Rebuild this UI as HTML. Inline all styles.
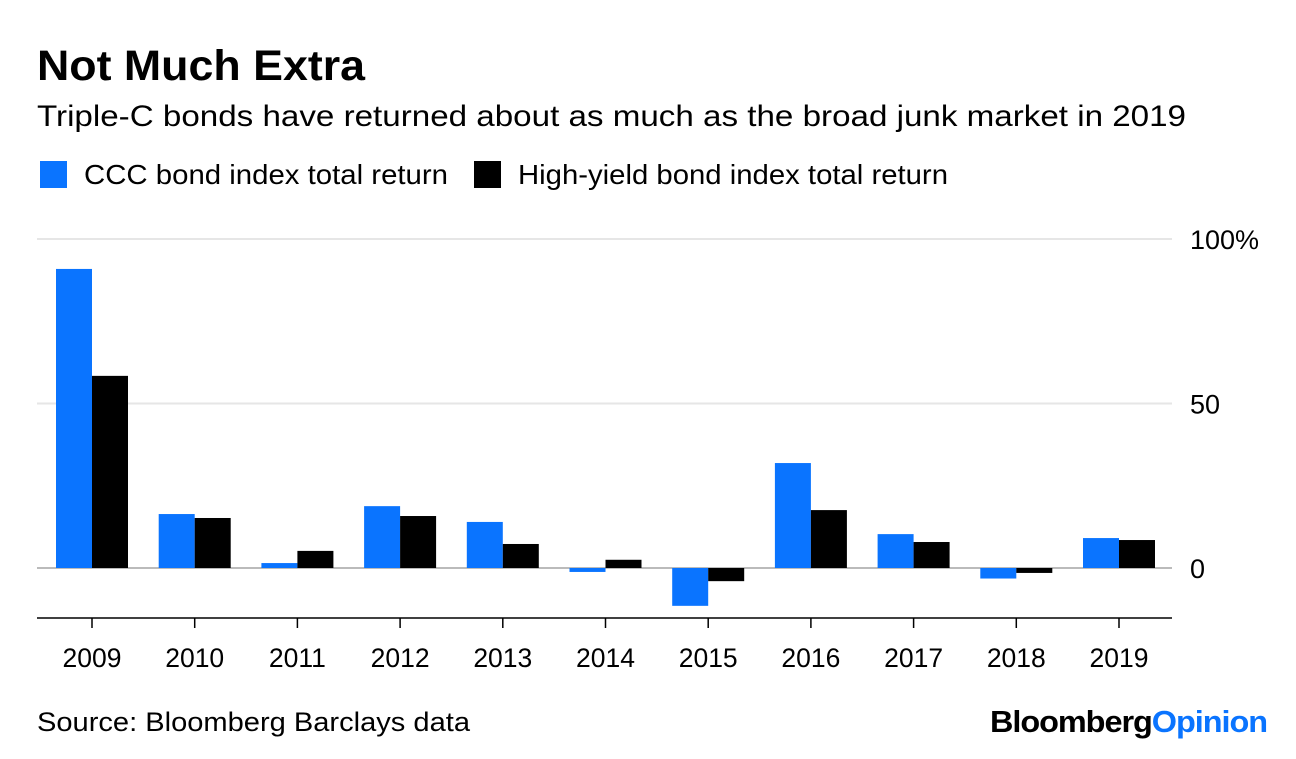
<!DOCTYPE html>
<html><head><meta charset="utf-8"><style>
body{margin:0;width:1296px;height:754px;background:#fff;font-family:"Liberation Sans",sans-serif;overflow:hidden}
</style></head><body>
<svg width="1296" height="754">
<text x="37" y="80" font-size="43" font-weight="bold" fill="#000" textLength="328" lengthAdjust="spacingAndGlyphs">Not Much Extra</text>
<text x="37" y="126" font-size="30" fill="#000" textLength="1149" lengthAdjust="spacingAndGlyphs">Triple-C bonds have returned about as much as the broad junk market in 2019</text>
<g>
<rect x="40" y="161" width="27" height="27" fill="#0a74ff"/>
<text x="84" y="184" font-size="28" textLength="364" lengthAdjust="spacingAndGlyphs">CCC bond index total return</text>
<rect x="474" y="161" width="27" height="27" fill="#000"/>
<text x="518" y="184" font-size="28" textLength="430" lengthAdjust="spacingAndGlyphs">High-yield bond index total return</text>
</g>
<g id="plot"></g>
<text x="37" y="731" font-size="27" textLength="433" lengthAdjust="spacingAndGlyphs">Source: Bloomberg Barclays data</text>
<text x="990" y="732" font-size="31" font-weight="bold" textLength="277" lengthAdjust="spacingAndGlyphs" letter-spacing="-1"><tspan fill="#000">Bloomberg</tspan><tspan fill="#0a74ff">Opinion</tspan></text>
</svg>
<script>
const categories=["2009","2010","2011","2012","2013","2014","2015","2016","2017","2018","2019"];
const cccValues=[90.9,16.4,1.5,18.8,14,-1.2,-11.5,31.9,10.3,-3.2,9.1];
const hyValues=[58.4,15.2,5.2,15.8,7.3,2.5,-4,17.6,7.9,-1.5,8.5];
const yTicks=[0,50,100];
const yTickLabels=["0","50","100%"];
const NS="http://www.w3.org/2000/svg";
const g=document.getElementById('plot');
const y=v=>568-v*3.29;
const xc=i=>92+i*102.7;
function mk(t,a){const e=document.createElementNS(NS,t);for(const k in a)e.setAttribute(k,a[k]);g.appendChild(e);return e;}
yTicks.forEach((t,i)=>{
 const l=mk('line',{x1:37,x2:1172,y1:y(t),y2:y(t),stroke:t===0?'#bbb':'#e6e6e6','stroke-width':2});
 
 
 const tx=mk('text',{x:1190,y:y(t)+10,'font-size':27});
 tx.textContent=yTickLabels[i];
 
 
});
const ax=mk('line',{x1:37,x2:1172,y1:618,y2:618,stroke:'#000','stroke-width':1.5});


categories.forEach((c,i)=>{
 const cx=xc(i);
 const a=cccValues[i],b=hyValues[i];
 const r1=mk('rect',{x:cx-36,y:Math.min(y(a),y(0)),width:36,height:Math.abs(y(a)-y(0)),fill:'#0a74ff'});
 
 
 const r2=mk('rect',{x:cx,y:Math.min(y(b),y(0)),width:36,height:Math.abs(y(b)-y(0)),fill:'#000'});
 
 
 const tk=mk('line',{x1:cx,x2:cx,y1:618,y2:628,stroke:'#000','stroke-width':1.5});
 
 
 const t=mk('text',{x:cx,y:667,'font-size':26.5,'text-anchor':'middle'});
 t.textContent=c;
 
 
});
</script>
</body></html>
